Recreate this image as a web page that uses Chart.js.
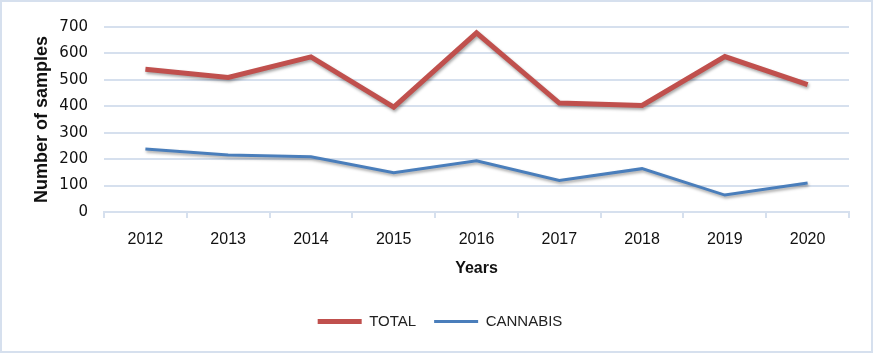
<!DOCTYPE html>
<html>
<head>
<meta charset="utf-8">
<script src="https://cdn.jsdelivr.net/npm/chart.js@4"></script>
<style>
  html, body { margin: 0; padding: 0; background: #fff; }
  #wrap { width: 873px; height: 353px; box-sizing: border-box; border: 2px solid #d6e0ee; }
</style>
</head>
<body>
<div id="wrap"><canvas id="samplesChart" width="869" height="349"></canvas></div>
<script>
// 데이터
const years = ['2012', '2013', '2014', '2015', '2016', '2017', '2018', '2019', '2020'];
const totalSamples = [540, 509, 587, 397, 678, 412, 403, 588, 482];
const cannabisSamples = [238, 216, 209, 149, 194, 119, 164, 64, 110];

// 선 그림자 (엑셀 느낌)
const shadowPlugin = {
    id: 'lineShadow',
    beforeDatasetDraw(chart) {
        const ctx = chart.ctx;
        ctx.save();
        ctx.shadowColor = 'rgba(0, 0, 0, 0.35)';
        ctx.shadowBlur = 3;
        ctx.shadowOffsetX = 1;
        ctx.shadowOffsetY = 2;
    },
    afterDatasetDraw(chart) {
        chart.ctx.restore();
    }
};

const ctx = document.getElementById('samplesChart').getContext('2d');
new Chart(ctx, {
    type: 'line',
    data: {
        labels: years,
        datasets: [{
            label: 'TOTAL',
            data: totalSamples,
            borderColor: '#c0504d',
            backgroundColor: '#c0504d',
            borderWidth: 5,
            pointRadius: 0,
            tension: 0
        }, {
            label: 'CANNABIS',
            data: cannabisSamples,
            borderColor: '#4a7ebb',
            backgroundColor: '#4a7ebb',
            borderWidth: 3,
            pointRadius: 0,
            tension: 0
        }]
    },
    options: {
        responsive: false,
        animation: false,
        layout: { padding: { left: 29, right: 22, top: 20, bottom: 12 } },
        plugins: {
            tooltip: { enabled: false },
            legend: {
                position: 'bottom',
                labels: {
                    usePointStyle: true,
                    pointStyle: 'line',
                    pointStyleWidth: 44,
                    boxHeight: 5,
                    padding: 18,
                    color: '#222',
                    font: { family: 'Liberation Sans, Arial, sans-serif', size: 15 }
                }
            }
        },
        scales: {
            x: {
                offset: true,
                afterFit(scale) { scale.height = 84; },
                grid: {
                    offset: true,
                    drawOnChartArea: false,
                    color: '#d6e0ee',
                    lineWidth: 2,
                    tickLength: 6
                },
                border: { color: '#d6e0ee', width: 2 },
                ticks: {
                    padding: 12,
                    color: '#111',
                    font: { family: 'Liberation Sans, Arial, sans-serif', size: 16 }
                },
                title: {
                    display: true,
                    text: 'Years',
                    color: '#111',
                    padding: { top: 0, bottom: 18 },
                    font: { family: 'Liberation Sans, Arial, sans-serif', size: 16, weight: 'bold' }
                }
            },
            y: {
                min: 0,
                max: 700,
                afterFit(scale) { scale.width = 73; },
                ticks: {
                    stepSize: 100,
                    padding: 16,
                    color: '#111',
                    font: { family: 'DejaVu Sans, sans-serif', size: 15 }
                },
                grid: {
                    color: '#d6e0ee',
                    lineWidth: 2,
                    drawTicks: false
                },
                border: { display: false },
                title: {
                    display: true,
                    text: 'Number of samples',
                    color: '#111',
                    padding: { top: 0, bottom: 0 },
                    font: { family: 'Liberation Sans, Arial, sans-serif', size: 18, weight: 'bold' }
                }
            }
        }
    },
    plugins: [shadowPlugin]
});
</script>
</body>
</html>
